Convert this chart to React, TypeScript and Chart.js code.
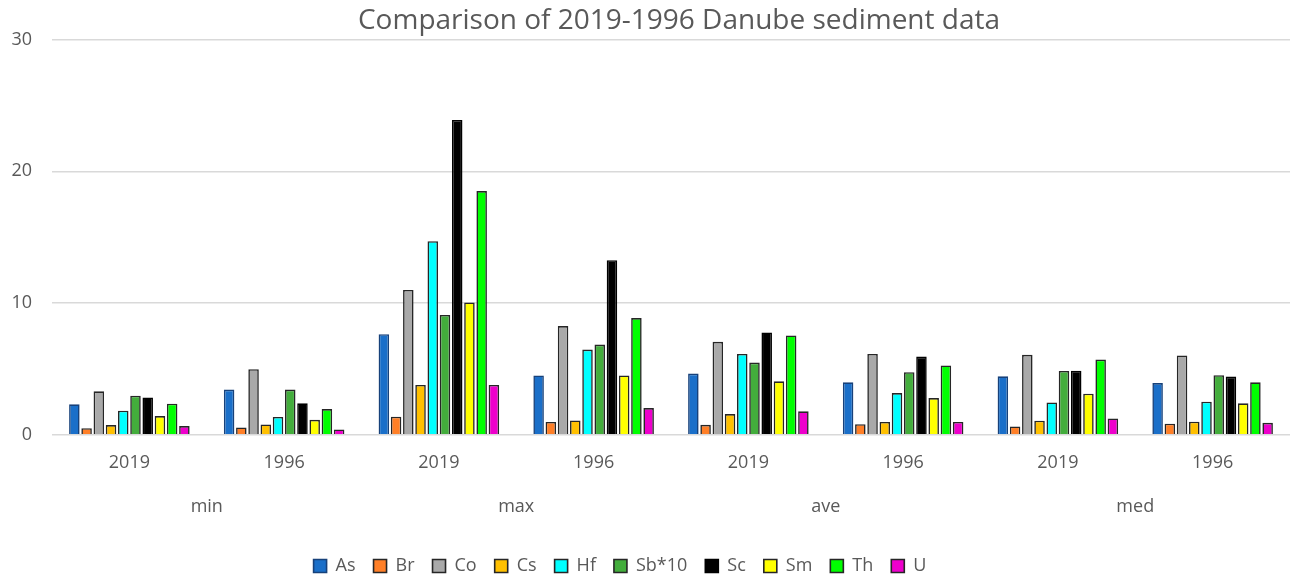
import React, { useEffect, useRef } from "react";
import { Chart, registerables } from "chart.js";

Chart.register(...registerables);

const years = ["2019", "1996", "2019", "1996", "2019", "1996", "2019", "1996"];
const groups = ["min", "max", "ave", "med"];
const elements = ["As", "Br", "Co", "Cs", "Hf", "Sb*10", "Sc", "Sm", "Th", "U"];

const As = [2.31, 3.43, 7.64, 4.5, 4.65, 3.98, 4.44, 3.93];
const Br = [0.5, 0.56, 1.37, 0.97, 0.76, 0.81, 0.63, 0.84];
const Co = [3.3, 4.98, 11.0, 8.25, 7.06, 6.14, 6.07, 6.02];
const Cs = [0.74, 0.79, 3.78, 1.09, 1.57, 0.97, 1.07, 0.99];
const Hf = [1.83, 1.35, 14.7, 6.47, 6.14, 3.17, 2.46, 2.51];
const Sb10 = [2.97, 3.43, 9.1, 6.85, 5.48, 4.75, 4.85, 4.52];
const Sc = [2.84, 2.39, 23.9, 13.25, 7.77, 5.94, 4.87, 4.42];
const Sm = [1.42, 1.14, 10.05, 4.5, 4.06, 2.79, 3.12, 2.39];
const Th = [2.36, 1.95, 18.5, 8.86, 7.54, 5.26, 5.71, 3.98];
const U = [0.66, 0.41, 3.78, 2.03, 1.78, 0.97, 1.24, 0.91];

const seriesValues = [As, Br, Co, Cs, Hf, Sb10, Sc, Sm, Th, U];
const fillColors = ["#1a6fc9", "#ff7f27", "#a9a9a9", "#ffc000", "#00ffff", "#43ad3c", "#000000", "#ffff00", "#00ff00", "#ee00cc"];
const borderColors = ["#17417a", "#262626", "#262626", "#262626", "#262626", "#262626", "#000000", "#262626", "#262626", "#262626"];

const boxShift = {
  id: "boxShift",
  afterLayout(chart: any) {
    const l = chart.legend;
    if (l) {
      const dx = -29;
      const dy = 15;
      l.left += dx;
      l.right += dx;
      l.top += dy;
      l.bottom += dy;
      if (l.legendHitBoxes) {
        l.legendHitBoxes.forEach((b: any) => {
          b.left += dx;
          b.top += dy;
        });
      }
    }
    const t = chart.titleBlock;
    if (t) {
      t.left += 30;
      t.right += 30;
    }
  },
};

export default function App() {
  const ref = useRef<HTMLCanvasElement | null>(null);
  useEffect(() => {
    document.body.style.margin = "0";
    if (!ref.current) return;
    const chart = new Chart(ref.current, {
      type: "bar",
      data: {
        labels: years,
        datasets: elements.map((name, i) => ({
          label: name,
          data: seriesValues[i],
          backgroundColor: fillColors[i],
          borderColor: borderColors[i],
          borderWidth: 1.6,
          categoryPercentage: 0.79,
          barPercentage: 0.86,
        })),
      },
      options: {
        animation: false,
        responsive: false,
        maintainAspectRatio: false,
        layout: { padding: { left: 8, right: 9, top: 4, bottom: 11 } },
        plugins: {
          title: {
            display: true,
            text: "Comparison of 2019-1996 Danube sediment data",
            color: "#595959",
            font: { family: "Open Sans", size: 28, weight: "normal" },
            padding: { top: 0, bottom: 2 },
          },
          legend: {
            position: "bottom",
            labels: {
              color: "#595959",
              font: { family: "Open Sans", size: 18 },
              boxWidth: 13,
              boxHeight: 13,
              padding: 18,
            },
          },
          tooltip: { enabled: false },
        },
        scales: {
          x: {
            grid: { display: false, drawTicks: false },
            border: { display: false },
            ticks: {
              color: "#595959",
              font: { family: "Open Sans", size: 18 },
              padding: 17,
            },
          },
          x2: {
            type: "category",
            labels: groups,
            position: "bottom",
            weight: 1,
            offset: true,
            grid: { display: false, drawTicks: false },
            border: { display: false },
            ticks: {
              color: "#595959",
              font: { family: "Open Sans", size: 18 },
              padding: 6,
            },
          },
          y: {
            min: 0,
            max: 30,
            afterFit: (scale: any) => {
              scale.width = 44;
            },
            ticks: {
              stepSize: 10,
              color: "#595959",
              font: { family: "Open Sans", size: 18 },
              padding: 20,
            },
            grid: { color: "#d9d9d9", lineWidth: 1.5, drawTicks: false },
            border: { display: false },
          },
        },
      },
      plugins: [boxShift],
    });
    return () => chart.destroy();
  }, []);
  return (
    <div style={{ width: 1299, height: 581 }}>
      <canvas ref={ref} width={1299} height={581} style={{ width: 1299, height: 581, display: "block" }} />
    </div>
  );
}
